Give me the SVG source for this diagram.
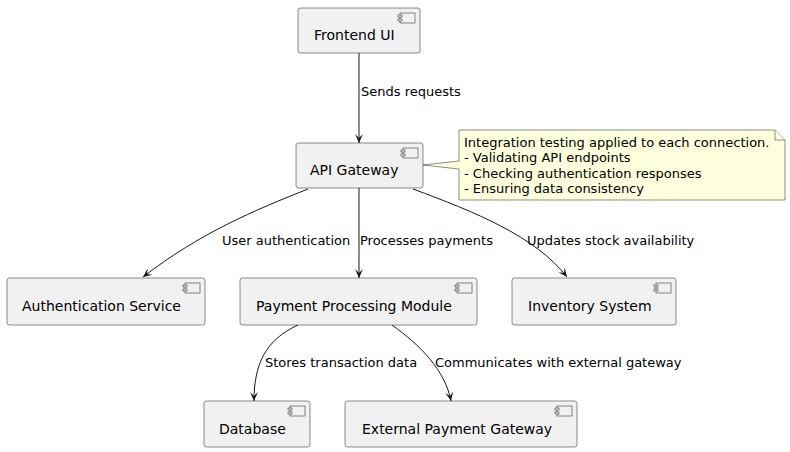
<svg xmlns="http://www.w3.org/2000/svg" width="790" height="452" viewBox="0 0 790 452">
<defs>
<style>
.box{fill:#F1F1F1;stroke:#181818;stroke-width:0.5}
.ic{fill:#F1F1F1;stroke:#181818;stroke-width:0.5}
.t{font-family:"DejaVu Sans",sans-serif;font-size:14px;fill:#000}
.l{font-family:"DejaVu Sans",sans-serif;font-size:13px;fill:#000}
.e{fill:none;stroke:#181818;stroke-width:1;marker-end:url(#a)}
.note{fill:#FEFFDD;stroke:#181818;stroke-width:0.5}
</style>
<marker id="a" viewBox="-10 -5 11 10" refX="0" refY="0" markerWidth="11" markerHeight="10" orient="auto" markerUnits="userSpaceOnUse">
<path d="M0,0 L-9,-4 L-5,0 L-9,4 Z" fill="#181818"/>
</marker>
<g id="icon">
<rect class="ic" x="0" y="0" width="15" height="10"/>
<rect class="ic" x="-2" y="2" width="4" height="2"/>
<rect class="ic" x="-2" y="6" width="4" height="2"/>
</g>
</defs>
<rect width="790" height="452" fill="#FFFFFF"/>

<g id="connectors">
<path class="e" d="M359,53 L359,143"/>
<text class="l" x="361" y="96">Sends requests</text>
<path class="e" d="M308,189 C255,210 200,233 143,277"/>
<text class="l" x="222" y="245">User authentication</text>
<path class="e" d="M359,188 L359,278"/>
<text class="l" x="360" y="245">Processes payments</text>
<path class="e" d="M413,189 C475,212 535,236 567,277"/>
<text class="l" x="527" y="245">Updates stock availability</text>
<path class="e" d="M298,325 C265,340 254,365 254,401"/>
<text class="l" x="265" y="367">Stores transaction data</text>
<path class="e" d="M392,325 C420,345 445,370 451,401"/>
<text class="l" x="435" y="367">Communicates with external gateway</text>
</g>

<g id="frontend">
<rect class="box" x="298" y="8" width="122" height="45" rx="2.5"/>
<use href="#icon" x="400" y="13"/>
<text class="t" x="314" y="40">Frontend UI</text>
</g>

<g id="apigateway">
<rect class="box" x="296" y="143" width="127" height="45" rx="2.5"/>
<use href="#icon" x="403" y="148"/>
<text class="t" x="310" y="175">API Gateway</text>
</g>

<g id="note">
<path class="note" d="M459,130 L775,130 L785,140 L785,200 L459,200 L459,169 L423,165 L459,161 Z"/>
<path class="note" d="M775,130 L775,140 L785,140"/>
<text class="l" x="464" y="147">Integration testing applied to each connection.</text>
<text class="l" x="464" y="162">- Validating API endpoints</text>
<text class="l" x="464" y="178">- Checking authentication responses</text>
<text class="l" x="464" y="193">- Ensuring data consistency</text>
</g>

<g id="auth">
<rect class="box" x="7" y="278" width="198" height="47" rx="2.5"/>
<use href="#icon" x="185" y="283"/>
<text class="t" x="22" y="311">Authentication Service</text>
</g>

<g id="payment">
<rect class="box" x="240" y="278" width="237" height="47" rx="2.5"/>
<use href="#icon" x="457" y="283"/>
<text class="t" x="256" y="311">Payment Processing Module</text>
</g>

<g id="inventory">
<rect class="box" x="512" y="278" width="164" height="47" rx="2.5"/>
<use href="#icon" x="656" y="283"/>
<text class="t" x="528" y="311">Inventory System</text>
</g>

<g id="database">
<rect class="box" x="204" y="401" width="106" height="46" rx="2.5"/>
<use href="#icon" x="290" y="406"/>
<text class="t" x="219" y="434">Database</text>
</g>

<g id="external">
<rect class="box" x="345" y="401" width="232" height="46" rx="2.5"/>
<use href="#icon" x="557" y="406"/>
<text class="t" x="362" y="434">External Payment Gateway</text>
</g>
</svg>
